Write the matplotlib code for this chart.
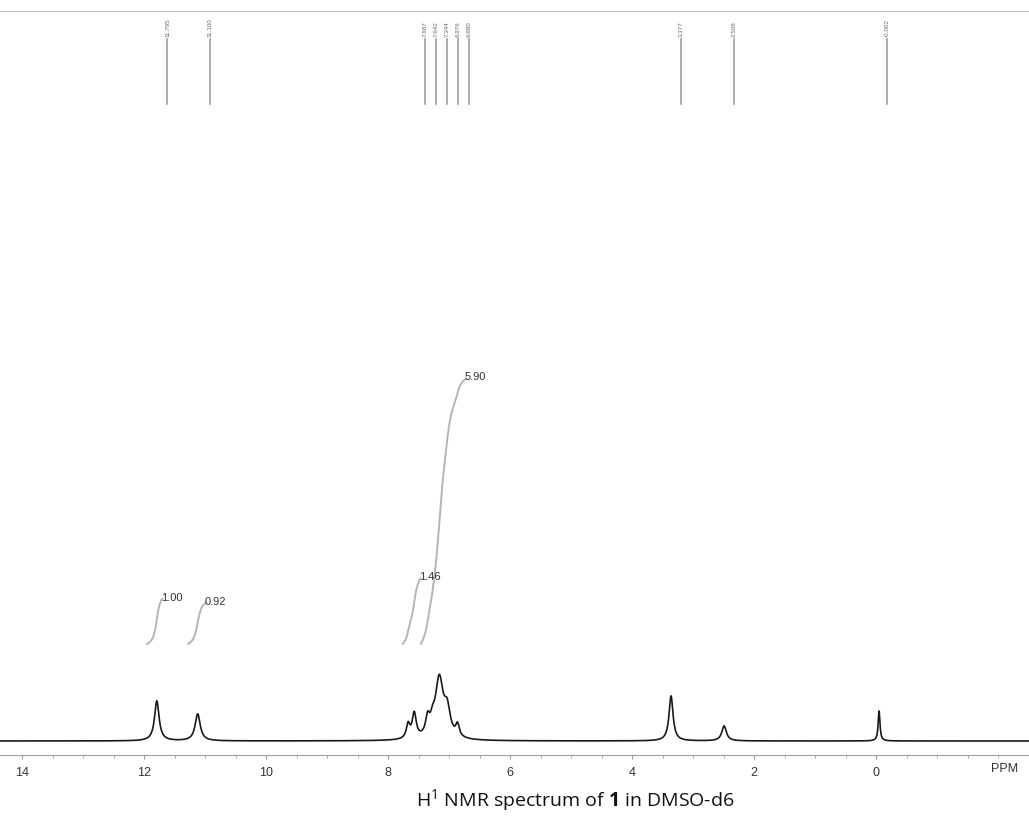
import numpy as np
import matplotlib
matplotlib.use("Agg")
import matplotlib.pyplot as plt

plt.rcParams['font.family'] = ['Liberation Sans', 'DejaVu Sans']
plt.rcParams['mathtext.fontset'] = 'custom'
plt.rcParams['mathtext.rm'] = 'Open Sans'
plt.rcParams['mathtext.bf'] = 'Open Sans:bold'

# ---- data ----
# peaks: centre (ppm), height (arb.), half width (ppm)
peak_ppm = [11.79, 11.12, 7.67, 7.57, 7.35, 7.27, 7.16, 7.03, 6.86, 3.36, 2.49, -0.05]
peak_height = [40, 27, 14, 25, 17, 10, 60, 25, 12, 45, 15, 30]
peak_width = [0.045, 0.05, 0.035, 0.04, 0.04, 0.04, 0.08, 0.06, 0.035, 0.04, 0.045, 0.018]

# labelled chemical shifts (top)
shift_labels = [11.795, 11.100, 7.687, 7.642, 7.344, 6.976, 6.880, 3.377, 2.508, -0.002]

# integrals: region start, region end (ppm), value
integ_start = [11.95, 11.28, 7.76, 7.46]
integ_end = [11.70, 10.98, 7.47, 6.72]
integ_value = [1.00, 0.92, 1.46, 5.90]

x_ticks = [14, 12, 10, 8, 6, 4, 2, 0]

# ---- figure ----
fig = plt.figure(figsize=(10.29, 8.28), dpi=100)
ax = fig.add_axes([0.0, 1 - 756 / 828, 1.0, (756 - 12) / 828])
ax.set_xlim(876 / 61, -153 / 61)
ax.set_ylim(0, 744)

ppm = np.linspace(14.5, -2.6, 8000)
baseline = 14
spec = np.full_like(ppm, baseline, dtype=float)
for c, h, w in zip(peak_ppm, peak_height, peak_width):
    spec += h / (1 + ((ppm - c) / w) ** 2)
ax.plot(ppm, spec, color='#1a1a1a', lw=1.2)

# integral curves
integ_base = 111
unit_px = 45
for s, e, v in zip(integ_start, integ_end, integ_value):
    m = (ppm <= s) & (ppm >= e)
    seg = spec[m] - baseline
    cum = np.cumsum(seg)
    cum = cum / cum[-1] * v * unit_px
    ax.plot(ppm[m], integ_base + cum, color='#b5b5b5', lw=1.4)
    ax.text(ppm[m][-1] + 0.02, integ_base + cum[-1] + 2, f"{v:.2f}",
            fontsize=8, color='#333333', ha='left', va='center')

# top shift markers: crowded aromatic group spread evenly
grp = [i for i, v in enumerate(shift_labels) if 6 < v < 8]
gap = 0.18
centre = np.mean([shift_labels[i] for i in grp]) - 0.27
disp = []
for i, v in enumerate(shift_labels):
    if i in grp:
        k = grp.index(i)
        disp.append(centre - (k - (len(grp) - 1) / 2) * gap)
    else:
        disp.append(v - 0.18)
for d, v in zip(disp, shift_labels):
    ax.plot([d, d], [651, 716], color='#a0a0a0', lw=1.2)
    ax.text(d, 719, f"{v:.3f}", rotation=90, fontsize=4.5, color='#666666',
            ha='center', va='bottom')

for sp in ['left', 'right']:
    ax.spines[sp].set_visible(False)
ax.spines['top'].set_color('#bdbdbd')
ax.spines['bottom'].set_color('#a0a0a0')
ax.set_yticks([])
ax.set_xticks(x_ticks)
ax.set_xticklabels([str(t) for t in x_ticks])
ax.set_xticks(np.arange(-2.5, 14.5, 0.5), minor=True)
ax.tick_params(axis='x', which='both', direction='out', colors='#a0a0a0',
               labelcolor='#333333', labelsize=9)
ax.tick_params(axis='x', which='major', length=3, pad=5)
ax.tick_params(axis='x', which='minor', length=2)

fig.text(1005 / 1029, 1 - 769 / 828, "PPM", fontsize=9, color='#333333',
         ha='center', va='center')
fig.text(575 / 1029, 1 - 801 / 828, r"H$^{\mathrm{1}}$ NMR spectrum of $\mathbf{1}$ in DMSO-d6",
         fontsize=14, color='#111111', ha='center', va='center', family='Open Sans')

fig.savefig("out.png", dpi=100, facecolor='white')
